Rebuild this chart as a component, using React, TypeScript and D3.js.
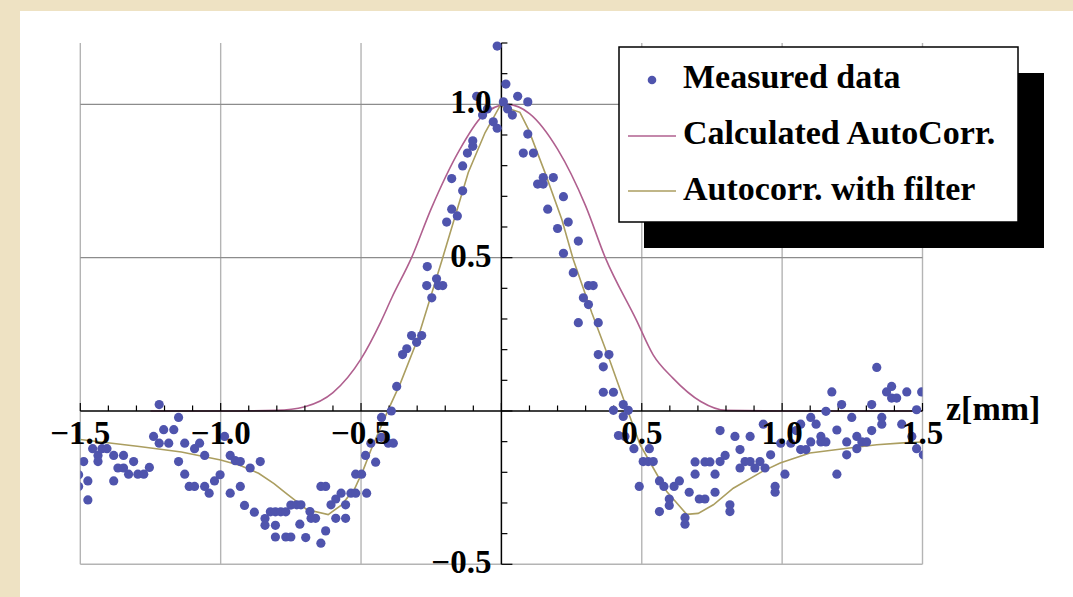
import React from 'react';
import * as d3 from 'd3';

// measured points [z (mm), value]
const measuredZ = [
  -1.506, -1.506, -1.488, -1.473, -1.473, -1.456, -1.437, -1.437, -1.423, -1.405,
  -1.381, -1.381, -1.366, -1.346, -1.346, -1.328, -1.310, -1.295, -1.274, -1.254,
  -1.239, -1.219, -1.219, -1.203, -1.185, -1.167, -1.150, -1.150, -1.128, -1.128,
  -1.112, -1.093, -1.093, -1.075, -1.057, -1.057, -1.041, -1.022, -1.002, -0.986,
  -0.966, -0.966, -0.948, -0.930, -0.930, -0.915, -0.895, -0.880, -0.859,
  -0.842, -0.842, -0.823, -0.805, -0.805, -0.786, -0.768, -0.805, -0.768, -0.750, -0.750,
  -0.729, -0.714, -0.718, -0.697, -0.682, -0.678, -0.662, -0.643, -0.626, -0.643,
  -0.626, -0.607, -0.590, -0.590, -0.571, -0.555, -0.555, -0.536, -0.519, -0.480,
  -0.519, -0.498, -0.484, -0.448, -0.465, -0.427, -0.403, -0.385, -0.427, -0.392,
  -0.373, -0.352, -0.337, -0.320, -0.302, -0.284, -0.266, -0.264, -0.248, -0.231,
  -0.225, -0.209, -0.195, -0.177, -0.157, -0.177, -0.138, -0.138, -0.121, -0.102,
  -0.102, -0.088, -0.067, -0.050, -0.029, -0.015, -0.015, 0.007, 0.016,
  0.022, 0.039, 0.058, 0.094, 0.094, 0.078, 0.114, 0.129, 0.149, 0.149,
  0.185, 0.165, 0.221, 0.200, 0.238, 0.221, 0.274, 0.256, 0.310, 0.327,
  0.292, 0.310, 0.274, 0.345, 0.345, 0.383, 0.363, 0.363, 0.399, 0.434,
  0.399, 0.434, 0.452,
  0.417, 0.440, 0.472, 0.527, 0.505, 0.523, 0.541, 0.491, 0.563, 0.579,
  0.598, 0.598, 0.563, 0.615, 0.634, 0.654, 0.654, 0.669, 0.690, 0.690,
  0.705, 0.725, 0.725, 0.743, 0.761, 0.761, 0.779, 0.779, 0.797, 0.814,
  0.814, 0.832, 0.850, 0.850, 0.868, 0.886, 0.886, 0.903, 0.921, 0.933, 0.939,
  0.959, 0.975, 0.975, 0.995, 1.010, 1.031, 1.050, 1.066, 1.066, 1.085,
  1.102, 1.102, 1.121, 1.138, 1.138, 1.156, 1.156, 1.177, 1.195, 1.195,
  1.212, 1.230, 1.230, 1.248, 1.266, 1.266, 1.284, 1.301, 1.319, 1.319,
  1.337, 1.355, 1.355, 1.372, 1.390, 1.390, 1.408, 1.426, 1.444, 1.462,
  1.479, 1.479, 1.497, 1.503,
];
const measuredV = [
  -0.208, -0.246, -0.165, -0.228, -0.290, -0.123, -0.145, -0.165, -0.123, -0.123,
  -0.145, -0.228, -0.186, -0.145, -0.186, -0.206, -0.165, -0.206, -0.206, -0.184,
  -0.083, 0.021, -0.105, -0.061, -0.105, -0.061, -0.021, -0.165, -0.105, -0.206,
  -0.246, -0.123, -0.246, -0.105, -0.145, -0.246, -0.268, -0.228, -0.208, -0.083,
  -0.145, -0.268, -0.162, -0.165, -0.246, -0.308, -0.186, -0.330, -0.165,
  -0.351, -0.373, -0.329, -0.329, -0.373, -0.329, -0.329, -0.411, -0.411, -0.411, -0.307,
  -0.306, -0.306, -0.369, -0.413, -0.328, -0.350, -0.350, -0.431, -0.391, -0.246,
  -0.246, -0.306, -0.287, -0.350, -0.268, -0.306, -0.350, -0.268, -0.268, -0.268,
  -0.206, -0.206, -0.145, -0.167, -0.105, -0.086, -0.105, -0.105, -0.021, 0.000,
  0.080, 0.184, 0.203, 0.246, 0.224, 0.246, 0.409, 0.471, 0.369, 0.431,
  0.409, 0.409, 0.616, 0.658, 0.636, 0.758, 0.718, 0.799, 0.841, 0.863,
  0.881, 1.026, 0.965, 0.985, 0.943, 0.922, 1.190, 1.008, 1.066,
  0.985, 0.965, 1.026, 1.008, 0.903, 0.841, 0.841, 0.740, 0.761, 0.740,
  0.761, 0.658, 0.699, 0.595, 0.616, 0.514, 0.554, 0.451, 0.409, 0.409,
  0.369, 0.347, 0.288, 0.288, 0.184, 0.184, 0.144, 0.061, 0.061, 0.021,
  0.002, -0.018, 0.002,
  -0.080, -0.083, -0.123, -0.123, -0.165, -0.165, -0.165, -0.246, -0.228, -0.246,
  -0.287, -0.308, -0.328, -0.246, -0.228, -0.348, -0.369, -0.265, -0.166, -0.206,
  -0.287, -0.287, -0.166, -0.166, -0.206, -0.265, -0.165, -0.064, -0.145, -0.306,
  -0.328, -0.083, -0.126, -0.186, -0.165, -0.083, -0.165, -0.186, -0.165, -0.043, -0.186,
  -0.143, -0.246, -0.265, -0.105, -0.206, -0.105, -0.064, -0.043, -0.126, -0.126,
  -0.101, -0.021, -0.043, -0.083, -0.101, -0.101, -0.001, 0.062, -0.062, -0.206,
  0.021, -0.101, -0.143, -0.021, -0.083, -0.123, -0.101, -0.101, -0.064, 0.021,
  0.142, -0.021, -0.043, 0.062, 0.080, 0.042, 0.042, -0.043, 0.062, -0.083,
  0.004, -0.123, 0.062, -0.143,
];

// calculated autocorrelation
const calcZ = [-1.25, -1.0, -0.8, -0.7, -0.6, -0.5, -0.43, -0.39, -0.32, -0.25, -0.15, -0.07, 0.02,
  0.1, 0.2, 0.3, 0.37, 0.48, 0.54, 0.61, 0.71, 0.8, 1.0, 1.25, 1.5];
const calcV = [0, 0, 0.002, 0.014, 0.06, 0.17, 0.29, 0.37, 0.5, 0.66, 0.85, 0.96, 1.0,
  0.97, 0.854, 0.669, 0.5, 0.298, 0.184, 0.108, 0.031, 0.002, 0, 0, 0];

// autocorrelation with filter
const filtZ = [-1.5, -1.29, -1.14, -1.0, -0.93, -0.865, -0.81, -0.77, -0.73, -0.694, -0.617, -0.569,
  -0.522, -0.492, -0.462, -0.426, -0.40, -0.36, -0.30, -0.209, -0.118, -0.058, -0.005, 0.066,
  0.096, 0.155, 0.215, 0.256, 0.322, 0.387, 0.44, 0.494, 0.541, 0.589, 0.66, 0.701, 0.755,
  0.826, 0.93, 0.993, 1.099, 1.218, 1.337, 1.432, 1.5];
const filtV = [-0.093, -0.116, -0.134, -0.16, -0.178, -0.203, -0.237, -0.266, -0.295, -0.321,
  -0.338, -0.306, -0.252, -0.192, -0.121, -0.045, 0.01, 0.09, 0.23, 0.5, 0.778, 0.908, 0.995,
  0.974, 0.919, 0.778, 0.625, 0.494, 0.32, 0.162, 0.026, -0.11, -0.186, -0.263, -0.337,
  -0.334, -0.306, -0.252, -0.197, -0.17, -0.137, -0.123, -0.11, -0.104, -0.101];

const xGrid = [-1.5, -1, -0.5, 0.5, 1, 1.5];
const yGrid = [1.0, 0.5, -0.5];
const xLabels = [
  { v: -1.5, t: '\u22121.5' }, { v: -1.0, t: '\u22121.0' }, { v: -0.5, t: '\u22120.5' },
  { v: 0.5, t: '0.5' }, { v: 1.0, t: '1.0' }, { v: 1.5, t: '1.5' },
];
const yLabels = [{ v: 1.0, t: '1.0' }, { v: 0.5, t: '0.5' }, { v: -0.5, t: '\u22120.5' }];
const legendItems = ['Measured data', 'Calculated AutoCorr.', 'Autocorr. with filter'];

const W = 1073, H = 597;
const DOT = '#4f54ad', MAG = '#b0608f', OLV = '#ab9e60';
const FONT = '"Liberation Serif", "Times New Roman", serif';

export default function App() {
  const x = d3.scaleLinear().domain([-1.5, 1.5]).range([80.3, 922.5]);
  const y = d3.scaleLinear().domain([-0.5, 1.2]).range([564.3, 43]);

  const calcPath = d3.line<[number, number]>().x(d => x(d[0])).y(d => y(d[1])).curve(d3.curveMonotoneX)
    (calcZ.map((z, i) => [z, calcV[i]]) as [number, number][]);
  const filtPath = d3.line<[number, number]>().x(d => x(d[0])).y(d => y(d[1]))
    (filtZ.map((z, i) => [z, filtV[i]]) as [number, number][]);

  const xTicks = d3.range(-15, 16).map(i => i / 10);
  const yTicks = d3.range(-5, 13).map(i => i / 10);
  const x0 = x(0), y0 = y(0);

  return (
    <div style={{ position: 'fixed', left: 0, top: 0 }}>
      <svg width={W} height={H} style={{ display: 'block' }}>
        <defs>
          <clipPath id="plot">
            <rect x={x(-1.5)} y={y(1.2) - 6} width={x(1.5) - x(-1.5)} height={y(-0.5) - y(1.2) + 6} />
          </clipPath>
        </defs>
        <rect width={W} height={H} fill="#eee2c3" />
        <rect x={20} y={11} width={W - 20} height={H - 11} fill="#fff" />

        {/* grid */}
        {xGrid.map(v => (
          <line key={'gx' + v} x1={x(v)} x2={x(v)} y1={y(1.2)} y2={y(-0.5)} stroke="#b4b4b4" strokeWidth={1.4} />
        ))}
        {yGrid.map(v => (
          <line key={'gy' + v} x1={x(-1.5)} x2={x(1.5)} y1={y(v)} y2={y(v)}
            stroke={v === -0.5 ? '#b4b4b4' : '#8c8c8c'} strokeWidth={1.4} />
        ))}

        {/* curves */}
        <g clipPath="url(#plot)">
          <path d={calcPath || ''} fill="none" stroke={MAG} strokeWidth={1.6} />
          <path d={filtPath || ''} fill="none" stroke={OLV} strokeWidth={1.6} />
        </g>

        {/* axes */}
        <line x1={x(-1.5)} x2={x(1.5)} y1={y0} y2={y0} stroke="#000" strokeWidth={1.5} />
        <line x1={x0} x2={x0} y1={y(1.2)} y2={y(-0.5)} stroke="#000" strokeWidth={1.5} />
        {xTicks.map((v, i) => (
          <line key={'tx' + i} x1={x(v)} x2={x(v)} y1={y0} y2={y0 - (Math.abs(v * 10) % 5 === 0 ? 8 : 5.5)}
            stroke="#000" strokeWidth={1.2} />
        ))}
        {yTicks.map((v, i) => (
          <line key={'ty' + i} x1={x0} x2={x0 + (Math.abs(v * 10) % 5 === 0 ? 11 : 6)} y1={y(v)} y2={y(v)}
            stroke="#000" strokeWidth={1.2} />
        ))}

        {/* measured data */}
        <g clipPath="url(#plot)">
          {measuredZ.map((z, i) => (
            <circle key={'d' + i} cx={x(z)} cy={y(measuredV[i])} r={4.6} fill={DOT} />
          ))}
        </g>

        {/* tick labels */}
        <g fontFamily={FONT} fontWeight="bold" fontSize={33} fill="#000">
          {xLabels.map(d => (
            <text key={'lx' + d.v} x={x(d.v)} y={y0 + 33} textAnchor="middle">{d.t}</text>
          ))}
          {yLabels.map(d => (
            <text key={'ly' + d.v} x={x0 - 10} y={y(d.v) + 9} textAnchor="end">{d.t}</text>
          ))}
          <text x={946} y={420} fontSize={34}>z[mm]</text>
        </g>

        {/* legend */}
        <rect x={644} y={73} width={400} height={175} fill="#000" />
        <rect x={619} y={47} width={399} height={175} fill="#fff" stroke="#000" strokeWidth={1.5} />
        <circle cx={652} cy={80} r={4.3} fill={DOT} />
        <line x1={628} x2={676} y1={136} y2={136} stroke={MAG} strokeWidth={1.6} />
        <line x1={628} x2={676} y1={191} y2={191} stroke={OLV} strokeWidth={1.6} />
        <g fontFamily={FONT} fontWeight="bold" fontSize={34} fill="#000">
          {legendItems.map((t, i) => (
            <text key={t} x={683} y={87.5 + i * 56}>{t}</text>
          ))}
        </g>
      </svg>
    </div>
  );
}
